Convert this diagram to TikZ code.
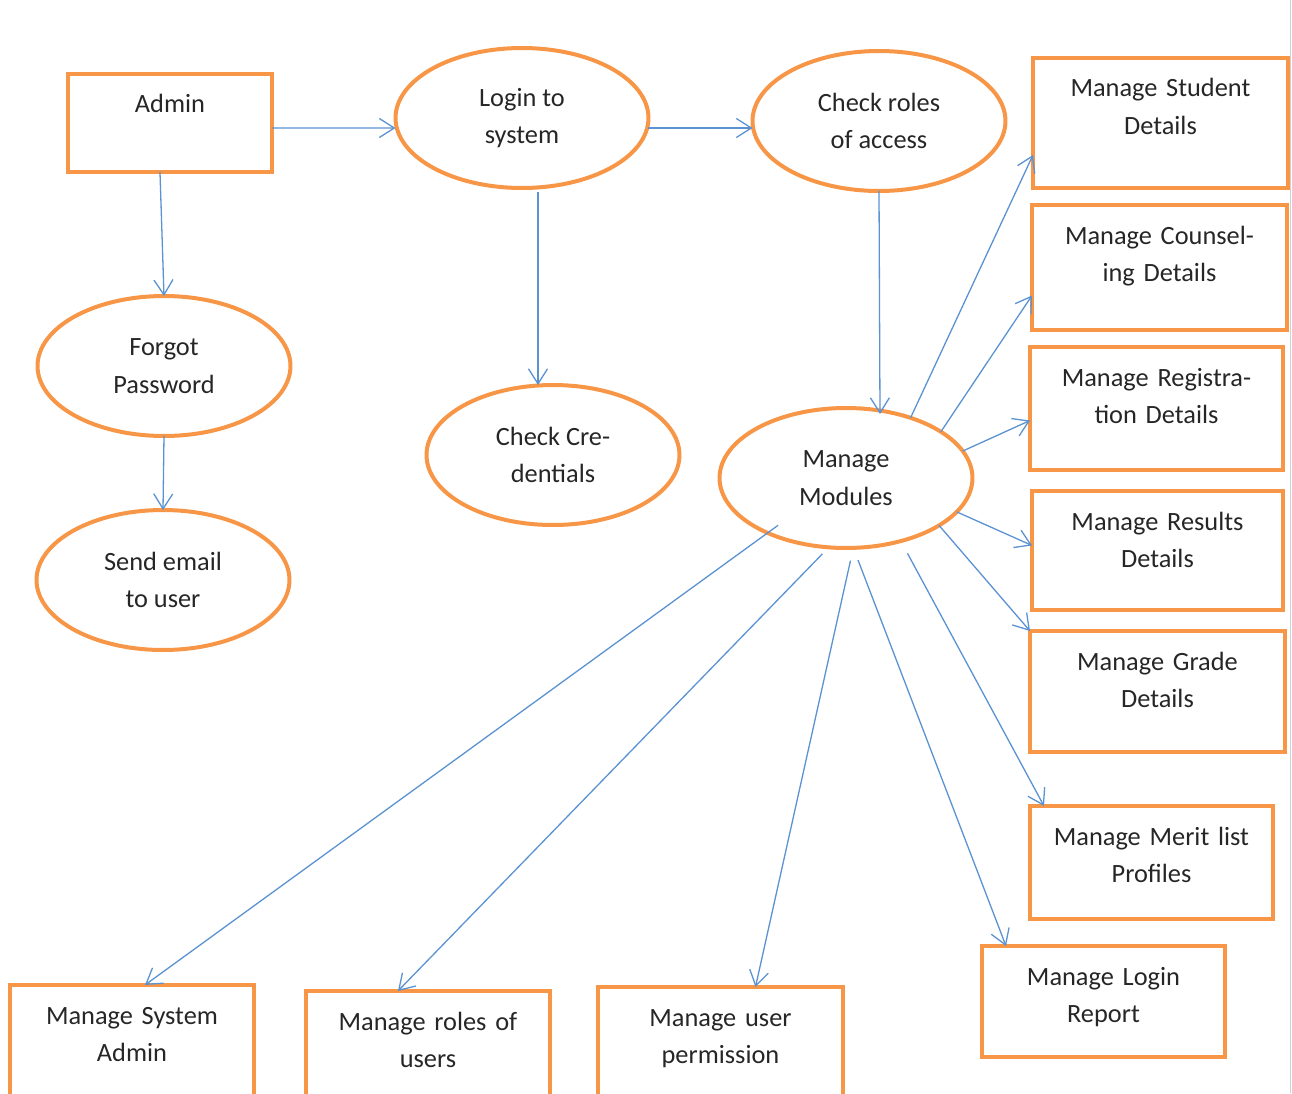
\documentclass[tikz,border=0pt]{standalone}
\usepackage{fontspec}
\setmainfont{Carlito}
\usetikzlibrary{shapes.geometric,arrows.meta,calc}

\definecolor{boxorange}{RGB}{247,150,70}
\definecolor{linkblue}{RGB}{91,146,210}

\tikzset{
    modbox/.style 2 args={rectangle, draw=boxorange, line width=0.08cm, anchor=north west,
        inner sep=0, outer sep=0, align=center, text width=#1, text height=0.78cm, text depth=#2},
    proc/.style={ellipse, draw=boxorange, line width=0.08cm, minimum width=5.06cm,
        minimum height=2.8cm, inner sep=0, outer sep=0, align=center},
    link/.style={draw=linkblue, line width=0.026cm, -{Straight Barb[length=0.3cm,width=0.38cm]}}
}

\begin{document}
\begin{tikzpicture}[x=0.02cm, y=-0.02cm, font=\fontsize{15pt}{21.5pt}\selectfont, text=black!85]
    \useasboundingbox (0,0) rectangle (1292,1093);
    \clip (0,0) rectangle (1292,1093);
    \draw[black!18, line width=0.03cm] (1290.5,0) -- (1290.5,1093);
    % processes
    \node[proc] (login) at (522,118) {Login to\\system};
    \node[proc] (check) at (879,121) {Check roles\\of access};
    \node[proc] (forgot) at (164,366) {Forgot\\Password};
    \node[proc] (cred) at (553,455) {Check Cre-\\dentials};
    \node[proc] (mm) at (846,478) {Manage\\Modules};
    \node[proc] (send) at (163,580) {Send email\\to user};
    % boxes
    \node[modbox={4.08cm}{1.18cm}] (admin) at (68,74) {Admin};
    \node[modbox={5.1cm}{1.82cm}] (stud) at (1033,58) {Manage Student\\Details};
    \node[modbox={5.1cm}{1.72cm}] (couns) at (1032,205) {Manage Counsel-\\ing Details};
    \node[modbox={5.06cm}{1.68cm}] (reg) at (1030,347) {Manage Registra-\\tion Details};
    \node[modbox={5.02cm}{1.6cm}] (res) at (1032,491) {Manage Results\\Details};
    \node[modbox={5.1cm}{1.64cm}] (grade) at (1030,631) {Manage Grade\\Details};
    \node[modbox={4.86cm}{1.48cm}] (merit) at (1030,806) {Manage Merit list\\Profiles};
    \node[modbox={4.86cm}{1.44cm}] (logrep) at (982,946) {Manage Login\\Report};
    \node[modbox={4.88cm}{1.82cm}] (sysadm) at (10,985) {Manage System\\Admin};
    \node[modbox={4.88cm}{1.82cm}] (roles) at (306,991) {Manage roles of\\users};
    \node[modbox={4.9cm}{1.82cm}] (perm) at (598,987) {Manage user\\permission};
    % top flow
    \draw[link] ($(admin.east)+(0,5)$) -- ($(login.west)+(0,10)$);
    \draw[link] ($(login.east)+(0,10)$) -- ($(check.west)+(0,7)$);
    \draw[link] ($(admin.south)+(-10,0)$) -- (forgot.north);
    \draw[link] (forgot.south) -- (send.north);
    \draw[link] ($(login.south)+(16,4)$) -- ($(cred.north)+(-15,0)$);
    \draw[link] (check.south) -- ($(mm.north)+(34,6)$);
    % modules
    \draw[link] (mm.43) -- ($(stud.west)+(0,32)$);
    \draw[link] (mm.26) -- ($(couns.west)+(0,28)$);
    \draw[link] (mm.13) -- ($(reg.west)+(0,12)$);
    \draw[link] (mm.-17) -- ($(res.west)+(0,-5)$);
    \draw[link] (mm.-27) -- (grade.north west);
    \draw[link, shorten <=0.28cm] (mm.-49) -- ($(merit.north west)+(14,0)$);
    \draw[link, shorten <=0.26cm] (mm.-84) -- ($(logrep.north west)+(24,0)$);
    \draw[link, shorten <=0.26cm] (mm.-84) -- ($(perm.north)+(35,0)$);
    \draw[link, shorten <=0.18cm] (mm.-104) -- ($(roles.north)+(-30,0)$);
    \draw[link, shorten <=-0.26cm] (mm.-145) -- ($(sysadm.north)+(13,0)$);
\end{tikzpicture}
\end{document}
